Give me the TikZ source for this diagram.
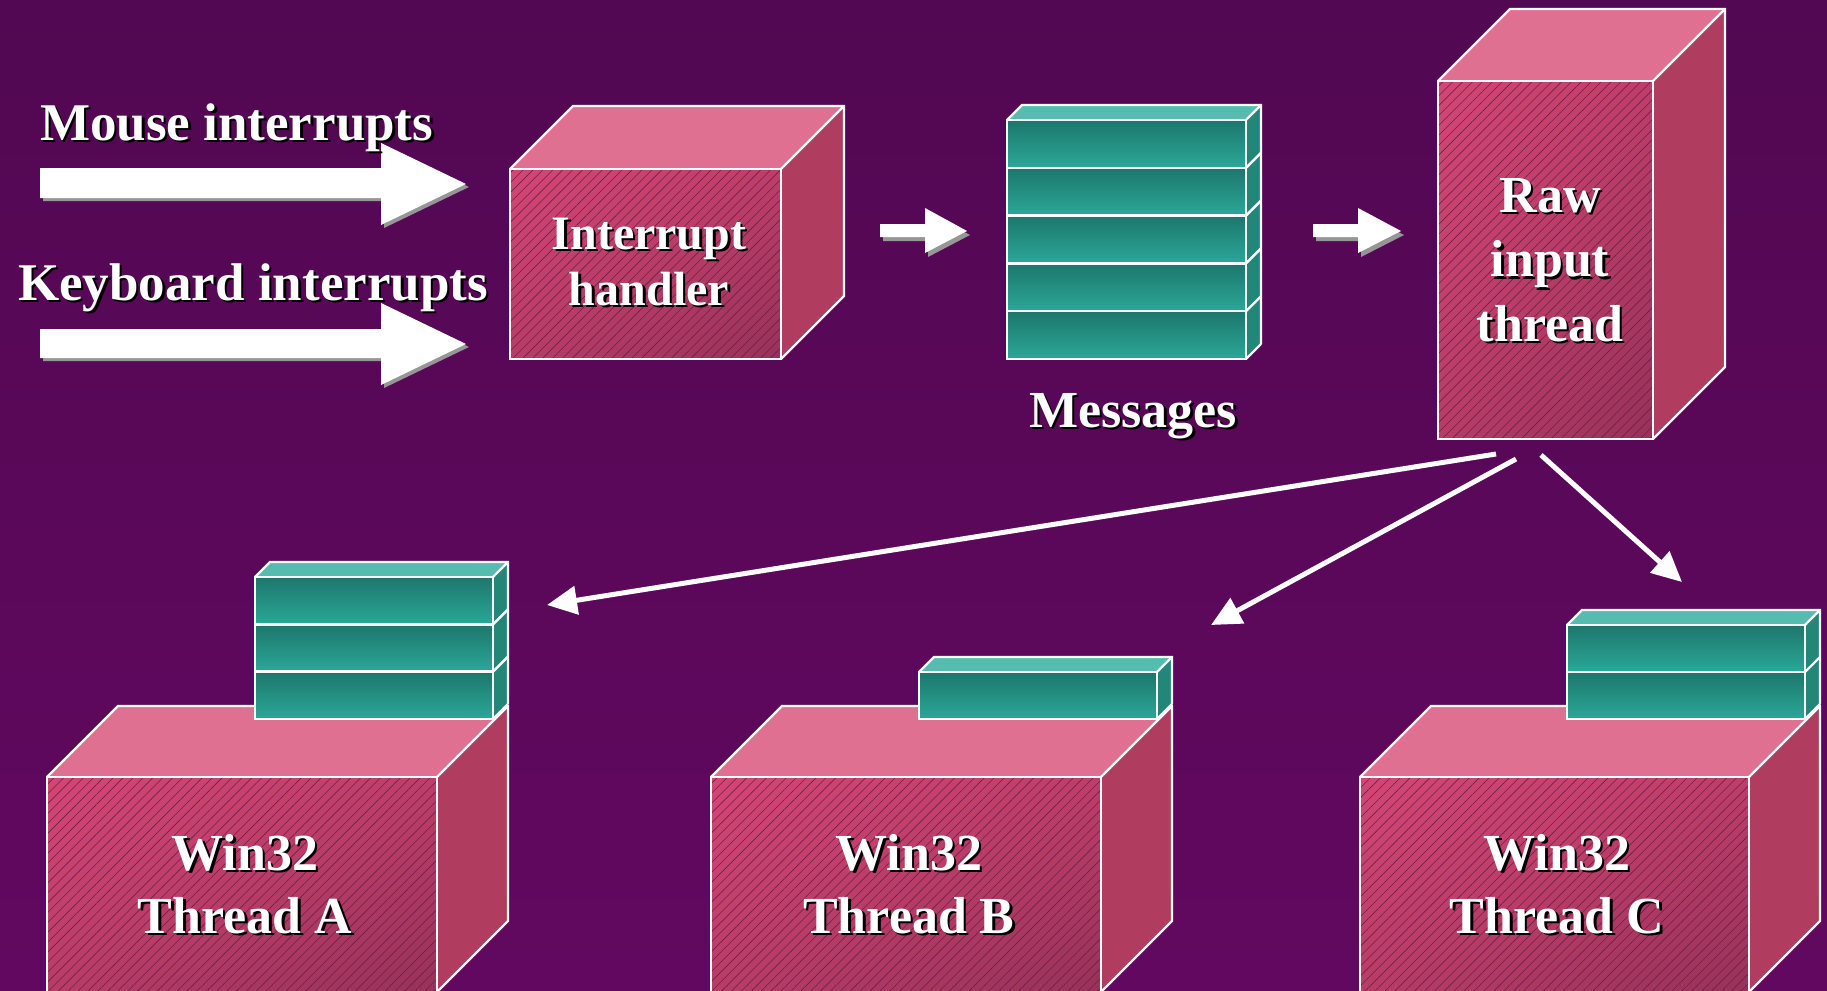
\documentclass[tikz,border=0pt]{standalone}
\usepackage{fontspec}
\setmainfont{Liberation Serif}
\usetikzlibrary{patterns.meta,arrows.meta,shadings}
\definecolor{bgtop}{RGB}{82,8,82}
\definecolor{bgbot}{RGB}{98,8,96}
\definecolor{pinktop}{RGB}{224,112,146}
\definecolor{pinkside}{RGB}{176,60,96}
\definecolor{pinkul}{RGB}{212,70,116}
\definecolor{pinkur}{RGB}{190,62,104}
\definecolor{pinkll}{RGB}{184,60,102}
\definecolor{pinklr}{RGB}{152,50,88}
\definecolor{hatchc}{RGB}{110,30,80}
\definecolor{tealtop}{RGB}{86,188,176}
\definecolor{tealside}{RGB}{34,134,120}
\definecolor{tealdk}{RGB}{30,118,108}
\definecolor{teallt}{RGB}{42,168,152}
\definecolor{arrshadow}{RGB}{150,150,150}
\tikzset{
  edge/.style={draw=white, line width=2.4pt, line join=miter},
  lbl/.style={text=white, inner sep=0pt, align=center, font=\bfseries\fontsize{52}{63}\selectfont},
  lblsh/.style={text=black},
  bigarrow/.style={fill=white},
  arrowsh/.style={fill=arrshadow},
  thinarrow/.style={draw=white, line width=5pt, -{Triangle[length=30pt,width=28pt]}},
}
% pink cuboid: x1 y1 x2 y2 depth
\newcommand{\pinkcube}[5]{%
  \fill[pinktop] (#1,#2) -- (#1+#5,#2-#5) -- (#3+#5,#2-#5) -- (#3,#2) -- cycle;
  \fill[pinkside] (#3,#2) -- (#3+#5,#2-#5) -- (#3+#5,#4-#5) -- (#3,#4) -- cycle;
  \shade[upper left=pinkul, upper right=pinkur, lower left=pinkll, lower right=pinklr] (#1,#2) rectangle (#3,#4);
  \fill[pattern={Lines[angle=45,distance=7pt,line width=0.6pt]}, pattern color=hatchc, fill opacity=0.22] (#1,#2) rectangle (#3,#4);
  \draw[edge] (#1,#2) rectangle (#3,#4);
  \draw[edge] (#1,#2) -- (#1+#5,#2-#5) -- (#3+#5,#2-#5) -- (#3+#5,#4-#5) -- (#3,#4);
  \draw[edge] (#3,#2) -- (#3+#5,#2-#5);
}
% teal queue: x1 ytop x2 ybot depth rows
\newcommand{\tealqueue}[6]{%
  \pgfmathsetmacro{\qh}{(#4-#2)/#6}%
  \fill[tealtop] (#1,#2) -- (#1+#5,#2-#5) -- (#3+#5,#2-#5) -- (#3,#2) -- cycle;
  \fill[tealside] (#3,#2) -- (#3+#5,#2-#5) -- (#3+#5,#4-#5) -- (#3,#4) -- cycle;
  \foreach \i in {1,...,#6}{%
    \shade[top color=tealdk, middle color=teallt!80!tealdk, bottom color=teallt]
      ({#1},{#2+(\i-1)*\qh}) rectangle ({#3},{#2+\i*\qh});
    \draw[edge] ({#1},{#2+(\i-1)*\qh}) rectangle ({#3},{#2+\i*\qh});
    \draw[edge] ({#3},{#2+\i*\qh}) -- ({#3+#5},{#2+\i*\qh-#5});
  }
  \draw[edge] (#1,#2) -- (#1+#5,#2-#5) -- (#3+#5,#2-#5) -- (#3+#5,#4-#5);
  \draw[edge] (#3,#2) -- (#3+#5,#2-#5);
}
% shadowed label: name, position, options, text
\newcommand{\shlabel}[4]{%
  \node[lbl,#3,lblsh,xshift=2.5pt,yshift=-2.5pt] at (#2) {#4};
  \node[lbl,#3] (#1) at (#2) {#4};
}
% big arrow: x1 x2 xtip shafttop shaftbot headtop headbot tipy
\newcommand{\bigarrowshape}[8]{%
  (#1,#4) -- (#2,#4) -- (#2,#6) -- (#3,#8) -- (#2,#7) -- (#2,#5) -- (#1,#5) -- cycle
}
\begin{document}
\begin{tikzpicture}[x=1pt,y=-1pt]
\useasboundingbox (0,0) rectangle (1827,990);
\clip (0,0) rectangle (1827,990);
\shade[top color=bgtop, bottom color=bgbot] (0,0) rectangle (1827,990);

% input arrows
\fill[arrowsh, shift={(3pt,-3pt)}] \bigarrowshape{40}{381}{466}{168}{198}{143}{225}{184};
\fill[bigarrow] \bigarrowshape{40}{381}{466}{168}{198}{143}{225}{184};
\fill[arrowsh, shift={(3pt,-3pt)}] \bigarrowshape{40}{381}{466}{329}{358}{303}{385}{344};
\fill[bigarrow] \bigarrowshape{40}{381}{466}{329}{358}{303}{385}{344};

\shlabel{mouse}{40,140}{anchor=base west, font=\bfseries\fontsize{53}{60}\selectfont}{Mouse interrupts}
\shlabel{keyboard}{18,300}{anchor=base west, font=\bfseries\fontsize{53}{60}\selectfont}{Keyboard interrupts}

% interrupt handler
\pinkcube{510}{169}{781}{359}{63}
\shlabel{handler}{649,262}{font=\bfseries\fontsize{48}{56}\selectfont}{Interrupt\\handler}

% small arrows
\fill[arrowsh, shift={(3pt,-4pt)}] \bigarrowshape{880}{925}{967}{224}{237}{208}{253}{231};
\fill[bigarrow] \bigarrowshape{880}{925}{967}{224}{237}{208}{253}{231};
\fill[arrowsh, shift={(3pt,-4pt)}] \bigarrowshape{1313}{1358}{1401}{224}{237}{208}{253}{231};
\fill[bigarrow] \bigarrowshape{1313}{1358}{1401}{224}{237}{208}{253}{231};

% messages queue
\tealqueue{1007}{120}{1246}{359}{15}{5}
\shlabel{messages}{1133,427}{anchor=base}{Messages}

% raw input thread
\pinkcube{1438}{81}{1653}{439}{72}
\shlabel{raw}{1550,260}{font=\bfseries\fontsize{52}{64.5}\selectfont}{Raw\\input\\thread}

% Win32 threads
\pinkcube{47}{777}{437}{992}{71}
\tealqueue{255}{577}{493}{719}{15}{3}
\shlabel{threadA}{245,884}{}{Win32\\Thread A}

\pinkcube{711}{777}{1101}{992}{71}
\tealqueue{919}{672}{1157}{719}{15}{1}
\shlabel{threadB}{909,884}{}{Win32\\Thread B}

\pinkcube{1360}{777}{1749}{992}{71}
\tealqueue{1567}{625}{1805}{719}{15}{2}
\shlabel{threadC}{1557,884}{}{Win32\\Thread C}

% dispatch arrows
\coordinate (r1) at (1496,454);
\coordinate (r2) at (1516,459);
\coordinate (r3) at (1541,455);
\coordinate (ta) at (547,605);
\coordinate (tb) at (1211,625);
\coordinate (tc) at (1682,582);
\draw[thinarrow] (r1) -- (ta);
\draw[thinarrow] (r2) -- (tb);
\draw[thinarrow] (r3) -- (tc);
\end{tikzpicture}
\end{document}
